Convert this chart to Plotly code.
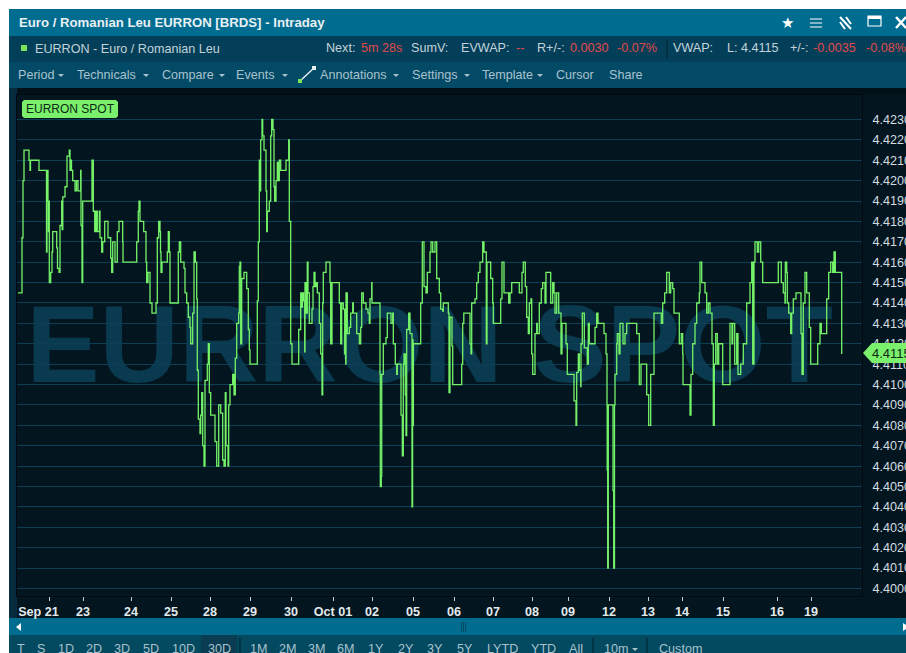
import plotly.graph_objects as go

W, H = 906, 653

# ---- data ----
slots_a = [18,22,23,24,29,30,30.5,39,46.5,47,48,48.5,49,49.3,50.7,52,52.7,56.7,57.5,59,60,61.7,62.2,62.8,65,67,69.3,70,71,71.5,72.7,75,76.5,78,80.7,81,82,82.7,92,93.3,94.7,96,97.3,99.3,100,101.7,102.7,104.7,108,110.7,111.7,112.7,115,117.3,119,122.7,123,136.7,138.3,139,140,143.7,146,146.7,148,150]
rates_a = [4.4145,4.4172,4.4200,4.4215,4.4210,4.4205,4.4210,4.4205,4.4165,4.4205,4.4190,4.4175,4.4190,4.4150,4.4155,4.4165,4.4175,4.4167,4.4157,4.4155,4.4178,4.4190,4.4176,4.4192,4.4197,4.4212,4.4215,4.4205,4.4210,4.4205,4.4200,4.4195,4.4200,4.4195,4.4205,4.4178,4.4150,4.4190,4.4210,4.4185,4.4175,4.4185,4.4175,4.4185,4.4172,4.4165,4.4170,4.4180,4.4172,4.4162,4.4155,4.4170,4.4160,4.4175,4.4180,4.4170,4.4160,4.4170,4.4185,4.4190,4.4180,4.4175,4.4160,4.4150,4.4155,4.4140]

slots_b = [152,156,157.3,158.7,160,160.5,161,162,167.3,168.3,169.3,170,178.3,179.3,180.7,184,185,186.7,188.3,190,190.7,192.7,194,195.3,196.7,197.3,198.3,200,200.7,201.7,202.7,204,205,207.3,208.3,209.3,210.7,215,216.7,218.7,220.7,222.7,224,225.3,226,228,228.7,230,232.7,234,235.3,236.7,238.7,239.3,240,240.7,241.7,244,246.7,248.3,249.3,250,257.3,258.3,259.3,260,260.7,262,262.7,264,266,266.7,267.3,269.3,270.7,271.7,273,274,274.7,276,277.3,278.3,279.3,280.7,286,288.7,289.3,290.7,292,298.7,300.7]
rates_b = [4.4135,4.4140,4.4172,4.4180,4.4175,4.4165,4.4155,4.4160,4.4165,4.4175,4.4165,4.4140,4.4165,4.4170,4.4160,4.4157,4.4145,4.4140,4.4133,4.4128,4.4120,4.4135,4.4165,4.4160,4.4142,4.4107,4.4083,4.4076,4.4085,4.4096,4.4070,4.4060,4.4102,4.4110,4.4120,4.4096,4.4085,4.4072,4.4060,4.4090,4.4086,4.4063,4.4060,4.4096,4.4070,4.4060,4.4090,4.4100,4.4105,4.4095,4.4113,4.4130,4.4135,4.4158,4.4160,4.4120,4.4152,4.4155,4.4147,4.4127,4.4117,4.4110,4.4141,4.4170,4.4210,4.4195,4.4220,4.4230,4.4222,4.4215,4.4195,4.4175,4.4185,4.4190,4.4222,4.4230,4.4225,4.4197,4.4190,4.4200,4.4209,4.4200,4.4210,4.4205,4.4210,4.4220,4.4180,4.4120,4.4110,4.4127,4.4145]

slots_c = [301.5,302.5,303.5,304.7,305,306,307.3,308,309.3,312,313,314,315,316,317.3,319.3,320.7,322,322.7,323.3,326,330,330.7,332,339.3,340.7,341.7,343.3,344.7,345.7,346,347.3,349.3,350.7,352.7,353.3,356.7,359.3,360.7,361.7,363.3,366,368,369.3,370,371.7,372,380,380.3,381.3,381.7,383.3,386,387.3,391,392.7,393.3,395.3,396.7,397.3,401,402.3,403.3,404,405.3,406,406.7,408.7,410,412,412.6,413,413.4,420.7,422.3,424,426,427.3,430,431,432.7,435,436.7,439.3,440.7,442.7,443.3,448.3,449,450,452,452.7]
rates_c = [4.4138,4.4145,4.4141,4.4116,4.4150,4.4135,4.4160,4.4145,4.4130,4.4137,4.4148,4.4155,4.4148,4.4150,4.4145,4.4130,4.4115,4.4095,4.4140,4.4155,4.4160,4.4150,4.4120,4.4150,4.4140,4.4120,4.4140,4.4137,4.4115,4.4110,4.4145,4.4125,4.4128,4.4135,4.4140,4.4135,4.4125,4.4120,4.4128,4.4145,4.4140,4.4137,4.4135,4.4130,4.4142,4.4150,4.4140,4.4105,4.4050,4.4055,4.4105,4.4120,4.4123,4.4135,4.4130,4.4135,4.4120,4.4110,4.4105,4.4110,4.4085,4.4065,4.4110,4.4115,4.4095,4.4075,4.4127,4.4135,4.4125,4.4040,4.4122,4.4080,4.4120,4.4140,4.4170,4.4148,4.4145,4.4155,4.4165,4.4170,4.4165,4.4170,4.4152,4.4145,4.4137,4.4136,4.4140,4.4135,4.4096,4.4133,4.4119,4.4100]

slots_d = [461.7,462.7,463.8,470,471,471.7,475,476.7,478.3,480,482.7,484,486.3,487,490.7,492.7,493.3,500.7,502,504,508.7,510,511.7,519.3,522,523.3,525.3,526.7,528.3,529.3,531,531.7,532.7,535,536.7,537.3,539.3,541.3,542.7,545,546,550.7,552.7,554,555,556.7,558.7,561,562,566,567.3,574,576,576.7,578.3,579.3,580.7,581,582.3,584.3,587.3,588.3,589.3,595,596.7,598,604,606,607,607.2,607.7,608.3,613,613.7,614.5,615,616.7,617.3,619,620,623,625,626.7,636.7,639.3,641,646.7,648.7,650.7,654]
rates_d = [4.4110,4.4130,4.4135,4.4120,4.4115,4.4140,4.4142,4.4150,4.4155,4.4160,4.4170,4.4165,4.4120,4.4160,4.4152,4.4140,4.4130,4.4142,4.4160,4.4145,4.4140,4.4145,4.4150,4.4145,4.4155,4.4160,4.4148,4.4133,4.4125,4.4140,4.4142,4.4115,4.4105,4.4125,4.4130,4.4125,4.4140,4.4147,4.4150,4.4140,4.4155,4.4140,4.4150,4.4145,4.4135,4.4145,4.4135,4.4115,4.4130,4.4120,4.4105,4.4092,4.4080,4.4106,4.4115,4.4107,4.4099,4.4120,4.4135,4.4118,4.4110,4.4130,4.4120,4.4128,4.4135,4.4130,4.4125,4.4115,4.4090,4.4058,4.4010,4.4090,4.4048,4.4010,4.4090,4.4105,4.4120,4.4125,4.4115,4.4130,4.4120,4.4125,4.4130,4.4125,4.4100,4.4110,4.4095,4.4080,4.4105,4.4135]

slots_e = [661.3,662.7,664.7,666.7,669.3,670.7,672.7,674,679.3,681.3,682.7,683,690,691,692.7,695,696.7,699.3,700,701.7,705,706.7,708.3,710,712,713.3,714.3,715.7,717.3,718.7,722.7,730,732,732.7,734.7,736.7,738,740.7,743.3,746.7,750,751.7,752.7,754,755,757.3,758.7,760.7,762.7,778.3,781.3,783.3,785,785.3,786.7,787.3,788.7,790.7,791.7,793.3,796,801,802,803.3,805,806.7,809.3,810.7,817.7,820,821.3,826.7,828.7,830.7,832.7,834,835.3,841.7]
rates_e = [4.4130,4.4140,4.4145,4.4155,4.4145,4.4150,4.4147,4.4135,4.4120,4.4125,4.4115,4.4100,4.4085,4.4105,4.4120,4.4130,4.4140,4.4145,4.4160,4.4150,4.4145,4.4135,4.4140,4.4135,4.4120,4.4080,4.4110,4.4125,4.4110,4.4120,4.4100,4.4130,4.4120,4.4130,4.4110,4.4125,4.4105,4.4110,4.4120,4.4140,4.4150,4.4160,4.4110,4.4160,4.4170,4.4165,4.4170,4.4160,4.4150,4.4160,4.4150,4.4145,4.4140,4.4160,4.4155,4.4140,4.4135,4.4125,4.4135,4.4142,4.4145,4.4125,4.4105,4.4140,4.4155,4.4145,4.4128,4.4110,4.4120,4.4130,4.4125,4.4142,4.4155,4.4160,4.4155,4.4165,4.4155,4.4115]

tick_slots = [49,83,131,171,210,250,291,333,372,413,454,493,532,568,609,648,682,723,777,811]
tick_labels = ["Sep 21\u00a0\u00a0\u00a0\u00a0\u00a0\u00a0","23","24","25","28","29","30","Oct 01","02","05","06","07","08","09","12","13","14","15","16","19"]
price_ticks = [4.400,4.401,4.402,4.403,4.404,4.405,4.406,4.407,4.408,4.409,4.410,4.411,4.412,4.413,4.414,4.415,4.416,4.417,4.418,4.419,4.420,4.421,4.422,4.423]
last_price = 4.4115

slots = slots_a + slots_b + slots_c + slots_d + slots_e
rates = rates_a + rates_b + rates_c + rates_d + rates_e

# ---- helpers ----
def px(x): return x / W
def py(y): return 1 - y / H

shapes, notes = [], []

def rect(x0, y0, x1, y1, color, layer="below"):
    shapes.append(dict(type="rect", xref="paper", yref="paper", x0=px(x0), x1=px(x1), y0=py(y1), y1=py(y0),
                       fillcolor=color, line=dict(width=0), layer=layer))

def poly(points, color, layer="above", outline=None):
    d = "M" + " L".join(f"{px(a):.5f},{py(b):.5f}" for a, b in points) + " Z"
    shapes.append(dict(type="path", xref="paper", yref="paper", path=d, fillcolor=color,
                       line=dict(width=1 if outline else 0, color=outline or color), layer=layer))

def seg(x0, y0, x1, y1, color, width=1, layer="above"):
    shapes.append(dict(type="line", xref="paper", yref="paper", x0=px(x0), x1=px(x1), y0=py(y0), y1=py(y1),
                       line=dict(color=color, width=width), layer=layer))

def text(x, y, s, color="#b9ced8", size=12.6, anchor="left", bold=False):
    shift = -2 if anchor == "left" else 0
    notes.append(dict(xref="paper", yref="paper", x=px(x + shift), y=py(y), text=f"<b>{s}</b>" if bold else s,
                      showarrow=False, xanchor=anchor, yanchor="middle",
                      font=dict(family="Liberation Sans", size=size, color=color)))

TITLE = "#006c90"
ROW = "#03495f"
RED = "#e0494a"
LT = "#c3d3da"

# panels
rect(9, 9, W, H, "#03161f")
rect(9, 9, W, 36, TITLE)
rect(9, 36, W, 62, "#033f58")
rect(9, 62, W, 88, "#034a66")
rect(9, 88, 17, 618, "#052c3f")
rect(17, 88, W, 95, "#021018")
rect(9, 618, W, 635, TITLE)
rect(9, 635, W, H, ROW)
rect(201, 635, 237, H, "#0a3c52")

# title row
text(19, 23, "Euro / Romanian Leu EURRON [BRDS] - Intraday", "#e8f0f3", 13.2, bold=True)
text(787, 23, "★", "#ffffff", 15, "center")
for yy in (19, 23, 27):
    seg(810, yy, 822, yy, "#dfe8ec", 1.2)
seg(840, 17, 851, 29, "#ffffff", 2)
seg(840, 22, 845, 29, "#ffffff", 2)
seg(846, 17, 851, 24, "#ffffff", 2)
shapes.append(dict(type="rect", xref="paper", yref="paper", x0=px(868), x1=px(881), y0=py(26), y1=py(16),
                   line=dict(color="#ffffff", width=1.2), layer="above"))
rect(868, 16, 881, 19, "#ffffff", "above")
seg(896, 17, 906, 28, "#ffffff", 2.5)
seg(896, 28, 906, 17, "#ffffff", 2.5)

# status row
rect(21, 45, 27, 51, "#7de25c", "above")
text(35, 49, "EURRON - Euro / Romanian Leu", LT)
text(326, 48, "Next:", LT)
text(361, 48, "5m 28s", RED)
text(411, 48, "SumV:", LT)
text(461, 48, "EVWAP:", LT)
text(516, 48, "--", RED)
text(537, 48, "R+/-:", LT)
text(570, 48, "0.0030", RED)
text(617, 48, "-0.07%", RED)
seg(667, 39, 667, 58, "#02222f", 1)
text(673, 48, "VWAP:", LT)
text(727, 48, "L: 4.4115", LT)
text(790, 48, "+/-:", LT)
text(813, 48, "-0.0035", RED)
text(866, 48, "-0.08%", RED)

# menu row
MENU = "#a9c2ce"
for xx, label, caret in [(18, "Period", 58), (77, "Technicals", 143), (162, "Compare", 219), (236, "Events", 282),
                         (320, "Annotations", 393), (412, "Settings", 464), (482, "Template", 537)]:
    text(xx, 75, label, MENU)
    poly([(caret, 74), (caret + 6, 74), (caret + 3, 77)], MENU)
text(556, 75, "Cursor", MENU)
text(609, 75, "Share", MENU)
seg(300, 81, 314, 68, "#e6eef1", 1.5)
rect(298, 79, 302, 83, "#7de25c", "above")
rect(312, 66, 316, 70, "#e6eef1", "above")

# time range row
for xx, label in [(21, "T"), (41, "S"), (66, "1D"), (94, "2D"), (122, "3D"), (151, "5D"), (183, "10D"), (219, "30D"),
                  (259, "1M"), (288, "2M"), (317, "3M"), (346, "6M"), (376, "1Y"), (406, "2Y"), (435, "3Y"), (465, "5Y"),
                  (503, "LYTD"), (543, "YTD"), (576, "All"), (616, "10m"), (680, "Custom")]:
    text(xx, 649, label, MENU, 12.6, "center")
poly([(632, 648), (638, 648), (635, 651)], MENU)
for xx in (240, 593, 647):
    seg(xx, 638, xx, H, "#02222f", 1)

# scrollbar
poly([(16, 627), (21, 623), (21, 631)], "#ffffff")
poly([(903, 623), (906, 625), (906, 629), (903, 631)], "#ffffff")
for xx in (461.5, 463.5, 465.5):
    seg(xx, 622, xx, 632, "#034a63", 1)

# series label
poly([(24, 100), (116, 100), (118, 102), (118, 116), (116, 118), (24, 118), (22, 116), (22, 102)], "#7bf06c")
text(70, 109, "EURRON SPOT", "#0a2a14", 12, "center")

# last price tag
poly([(863, 353), (872, 343), (906, 343), (906, 363), (872, 363)], "#7bf06c")
text(872, 353, "4.4115", "#0a2a14", 13)

# watermark below the gridlines
shapes.append(dict(type="rect", xref="x", yref="y", x0=17, x1=842, y0=4.4100, y1=4.4150,
                   fillcolor="rgba(0,0,0,0)", line=dict(width=0), layer="below",
                   label=dict(text="<b>EURRON SPOT</b>", textposition="middle center",
                              font=dict(family="Liberation Sans", size=110, color="#0a3a50"))))

fig = go.Figure(go.Scatter(x=slots, y=rates, mode="lines",
                           line=dict(color="#74f268", width=1.3, shape="hv"), hoverinfo="skip"))

fig.update_layout(
    width=W, height=H, autosize=False, showlegend=False,
    margin=dict(l=0, r=0, t=0, b=0, pad=0, autoexpand=False),
    paper_bgcolor="#ffffff", plot_bgcolor="rgba(0,0,0,0)",
    shapes=shapes, annotations=notes,
    xaxis=dict(domain=[17 / W, 862 / W], range=[17, 862], tickmode="array", tickangle=0,
               tickvals=tick_slots, ticktext=[f"<b>{t}</b>" for t in tick_labels],
               ticks="outside", ticklen=4, tickwidth=1, tickcolor="#c5d0d5",
               tickfont=dict(family="Liberation Sans", size=12.6, color="#e2eaee"),
               showgrid=False, zeroline=False, showline=True, linecolor="#010a0f", mirror=True),
    yaxis=dict(domain=[1 - 596 / H, 1 - 95 / H], range=[4.39963, 4.4242], side="right", tickmode="array",
               tickvals=price_ticks, tickformat=".4f", ticks="outside", ticklen=7, tickcolor="rgba(0,0,0,0)",
               tickfont=dict(family="Liberation Sans", size=12.6, color="#d3dde1"),
               showgrid=True, gridcolor="#0c3f55", gridwidth=1, zeroline=False,
               showline=True, linecolor="#010a0f", mirror=True),
)

fig.write_html("out.html", config={"displayModeBar": False, "responsive": False},
               post_script="document.body.style.margin='0';document.body.style.background='#fff';")
